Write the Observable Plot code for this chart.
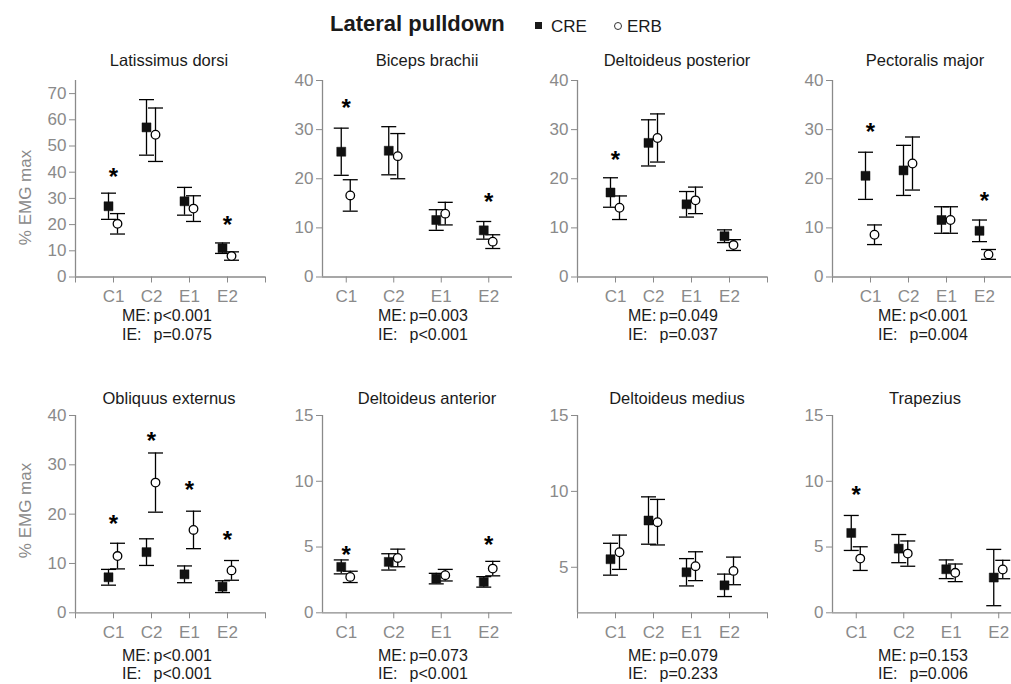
<!DOCTYPE html>
<html><head><meta charset="utf-8">
<script src="https://cdn.jsdelivr.net/npm/d3@7"></script>
<script src="https://cdn.jsdelivr.net/npm/@observablehq/plot@0.6"></script>
<style>
html,body{margin:0;padding:0;background:#fff;overflow:hidden;}
#root{position:relative;width:1011px;height:684px;overflow:hidden;font-family:"Liberation Sans",Arial,sans-serif;color:#222;}
.t{position:absolute;white-space:nowrap;line-height:1;}
</style></head><body><div id="root"></div>
<script>
// ---------- data ----------
const groups = ["C1", "C2", "E1", "E2"];
const muscles = ["Latissimus dorsi", "Biceps brachii", "Deltoideus posterior", "Pectoralis major",
                 "Obliquus externus", "Deltoideus anterior", "Deltoideus medius", "Trapezius"];
const creMean = [[27.0, 57.1, 28.9, 11.0], [25.5, 25.7, 11.6, 9.5], [17.2, 27.3, 14.8, 8.3], [20.6, 21.7, 11.6, 9.4],
                 [7.2, 12.3, 7.8, 5.3], [3.49, 3.87, 2.6, 2.35], [5.53, 8.08, 4.67, 3.81], [6.07, 4.88, 3.31, 2.68]];
const creErr  = [[5.0, 10.6, 5.3, 2.0], [4.8, 4.9, 2.1, 1.8], [3.0, 4.7, 2.6, 1.3], [4.8, 5.1, 2.7, 2.2],
                 [1.6, 2.7, 1.7, 1.2], [0.53, 0.62, 0.4, 0.4], [1.05, 1.56, 0.9, 0.74], [1.33, 1.07, 0.71, 2.14]];
const erbMean = [[20.3, 54.3, 26.1, 8.0], [16.6, 24.6, 12.9, 7.2], [14.1, 28.3, 15.6, 6.5], [8.6, 23.1, 11.6, 4.6],
                 [11.5, 26.4, 16.8, 8.6], [2.73, 4.17, 2.86, 3.36], [5.99, 7.97, 5.07, 4.76], [4.12, 4.5, 3.04, 3.29]];
const erbErr  = [[3.9, 10.2, 4.9, 1.6], [3.2, 4.6, 2.3, 1.4], [2.4, 4.9, 2.7, 1.1], [2.0, 5.4, 2.7, 1.0],
                 [2.6, 6.0, 3.8, 2.0], [0.43, 0.67, 0.44, 0.55], [1.13, 1.5, 0.95, 0.91], [0.9, 0.96, 0.67, 0.7]];
// asterisk (significant difference) marker heights, null = none
const starY   = [[40.3, null, null, 21.9], [35.6, null, null, 16.4], [24.9, null, null, null], [30.6, null, null, 16.7],
                 [19.1, 36.0, 26.0, 15.9], [4.8, null, null, 5.6], [null, null, null, null], [9.4, null, null, null]];
const meP = ["p<0.001", "p=0.003", "p=0.049", "p<0.001", "p<0.001", "p=0.073", "p=0.079", "p=0.153"];
const ieP = ["p=0.075", "p<0.001", "p=0.037", "p=0.004", "p<0.001", "p<0.001", "p=0.233", "p=0.006"];
const yTicks = [[0, 10, 20, 30, 40, 50, 60, 70], [0, 10, 20, 30, 40], [0, 10, 20, 30, 40], [0, 10, 20, 30, 40],
                [0, 10, 20, 30, 40], [0, 5, 10, 15], [5, 10, 15], [0, 5, 10, 15]];
const yDomains = [[0, 75], [0, 40], [0, 40], [0, 40], [0, 40], [0, 15], [2, 15], [0, 15]];
const seriesNames = ["CRE", "ERB"];

// ---------- layout ----------
const wide = {xd: [0, 5], xt: [0, 1, 2, 3, 4, 5]};
const narrow = {xd: [0.5, 4.5], xt: [1, 2, 3, 4]};
const colLeft = [75, 321.7, 576.7, 831.5];
const rowTop = [80, 415], rowBottom = [276.5, 612.3];
const xKind = [wide, narrow, wide, wide, wide, narrow, wide, narrow];
const titleCx = [169, 427, 677, 925];
const textLeft = [122, 378, 628, 878];
const titleCy = [60, 398], meCy = [316, 655.5], ieCy = [334.5, 674];
const GRAY = "#8a8a8a";

const root = document.getElementById("root");
function addText(txt, left, cy, size, opts = {}) {
  const d = document.createElement("div");
  d.className = "t";
  d.textContent = txt;
  d.style.left = left + "px";
  d.style.top = (cy - size / 2) + "px";
  d.style.fontSize = size + "px";
  if (opts.bold) d.style.fontWeight = "bold";
  if (opts.color) d.style.color = opts.color;
  if (opts.center) d.style.transform = "translateX(-50%)";
  root.appendChild(d);
  return d;
}

const capSymbol = {draw(ctx) { ctx.moveTo(-7.5, 0); ctx.lineTo(7.5, 0); }};
const squareSymbol = {draw(ctx) { ctx.rect(-4.5, -4.5, 9, 9); }};
const circleSymbol = {draw(ctx) { ctx.moveTo(4.3, 0); ctx.arc(0, 0, 4.3, 0, 2 * Math.PI); ctx.closePath(); }};

for (let i = 0; i < 8; i++) {
  const row = Math.floor(i / 4), col = i % 4;
  const kind = xKind[i];
  const left = colLeft[col];
  const spacing = kind === wide ? 38 : 47.5;
  const right = left + (kind.xd[1] - kind.xd[0]) * spacing;
  const top = rowTop[row], bottom = rowBottom[row];
  const mL = 50, mR = 12, mT = 20, mB = 45;

  const cre = groups.map((g, j) => ({x: j + 1, m: creMean[i][j], lo: creMean[i][j] - creErr[i][j], hi: creMean[i][j] + creErr[i][j]}));
  const erb = groups.map((g, j) => ({x: j + 1, m: erbMean[i][j], lo: erbMean[i][j] - erbErr[i][j], hi: erbMean[i][j] + erbErr[i][j]}));
  const stars = groups.map((g, j) => ({x: j + 1, y: starY[i][j]})).filter(d => d.y != null);
  const yd = yDomains[i];

  const errMarks = (data, dx) => [
    Plot.ruleX(data, {x: "x", y1: "lo", y2: "hi", dx, stroke: "black", strokeWidth: 1.3}),
    Plot.dot(data, {x: "x", y: "lo", dx, symbol: capSymbol, fill: "none", stroke: "black", strokeWidth: 1.3}),
    Plot.dot(data, {x: "x", y: "hi", dx, symbol: capSymbol, fill: "none", stroke: "black", strokeWidth: 1.3})
  ];

  const plot = Plot.plot({
    width: right - left + mL + mR,
    height: bottom - top + mT + mB,
    marginLeft: mL, marginRight: mR, marginTop: mT, marginBottom: mB,
    style: {background: "none", overflow: "visible", color: GRAY, fontSize: "17px",
            fontFamily: "'Liberation Sans', Arial, sans-serif"},
    x: {domain: kind.xd, ticks: kind.xt, tickFormat: d => groups[d - 1] ?? "", tickSize: 6, tickPadding: 7, label: null},
    y: {domain: yd, ticks: yTicks[i], tickSize: 6, tickPadding: 3, label: null},
    marks: [
      Plot.ruleX([kind.xd[0]], {stroke: GRAY, strokeWidth: 1.3}),
      Plot.ruleY([yd[0]], {stroke: GRAY, strokeWidth: 1.3}),
      ...errMarks(cre, -5),
      ...errMarks(erb, 4),
      Plot.dot(cre, {x: "x", y: "m", dx: -5, symbol: squareSymbol, fill: "#111", stroke: "#111", strokeWidth: 0.5}),
      Plot.dot(erb, {x: "x", y: "m", dx: 4, symbol: circleSymbol, fill: "white", stroke: "black", strokeWidth: 1.3}),
      Plot.text(stars, {x: "x", y: "y", text: () => "*", fill: "black", fontSize: 24, fontWeight: "bold", lineAnchor: "middle", dy: 6})
    ]
  });
  plot.style.position = "absolute";
  plot.style.left = (left - mL) + "px";
  plot.style.top = (top - mT) + "px";
  plot.style.maxWidth = "none";
  root.appendChild(plot);

  addText(muscles[i], titleCx[col], titleCy[row], 16.5, {center: true, color: "#1a1a1a"});
  addText("ME:", textLeft[col], meCy[row], 16, {color: "#1a1a1a"});
  addText(meP[i], textLeft[col] + 31.5, meCy[row], 16, {color: "#1a1a1a"});
  addText("IE:", textLeft[col], ieCy[row], 16, {color: "#1a1a1a"});
  addText(ieP[i], textLeft[col] + 31.5, ieCy[row], 16, {color: "#1a1a1a"});
}

// y axis labels
for (const cy of [197, 510]) {
  const d = addText("% EMG max", 25, cy, 17, {color: GRAY});
  d.style.transform = "translate(-50%, 0) rotate(-90deg)";
  d.style.transformOrigin = "50% 50%";
}

// title and legend
addText("Lateral pulldown", 330, 24, 22, {bold: true, color: "#1a1a1a"});
const sq = document.createElement("div");
sq.style.cssText = "position:absolute;left:534.5px;top:22px;width:7px;height:7px;background:#1a1a1a;";
root.appendChild(sq);
addText(seriesNames[0], 551, 26, 17, {color: "#1a1a1a"});
const ci = document.createElement("div");
ci.style.cssText = "position:absolute;left:613.5px;top:22px;width:6px;height:6px;border:1px solid #333;border-radius:50%;background:#fff;";
root.appendChild(ci);
addText(seriesNames[1], 627, 26, 17, {color: "#1a1a1a"});
</script></body></html>
